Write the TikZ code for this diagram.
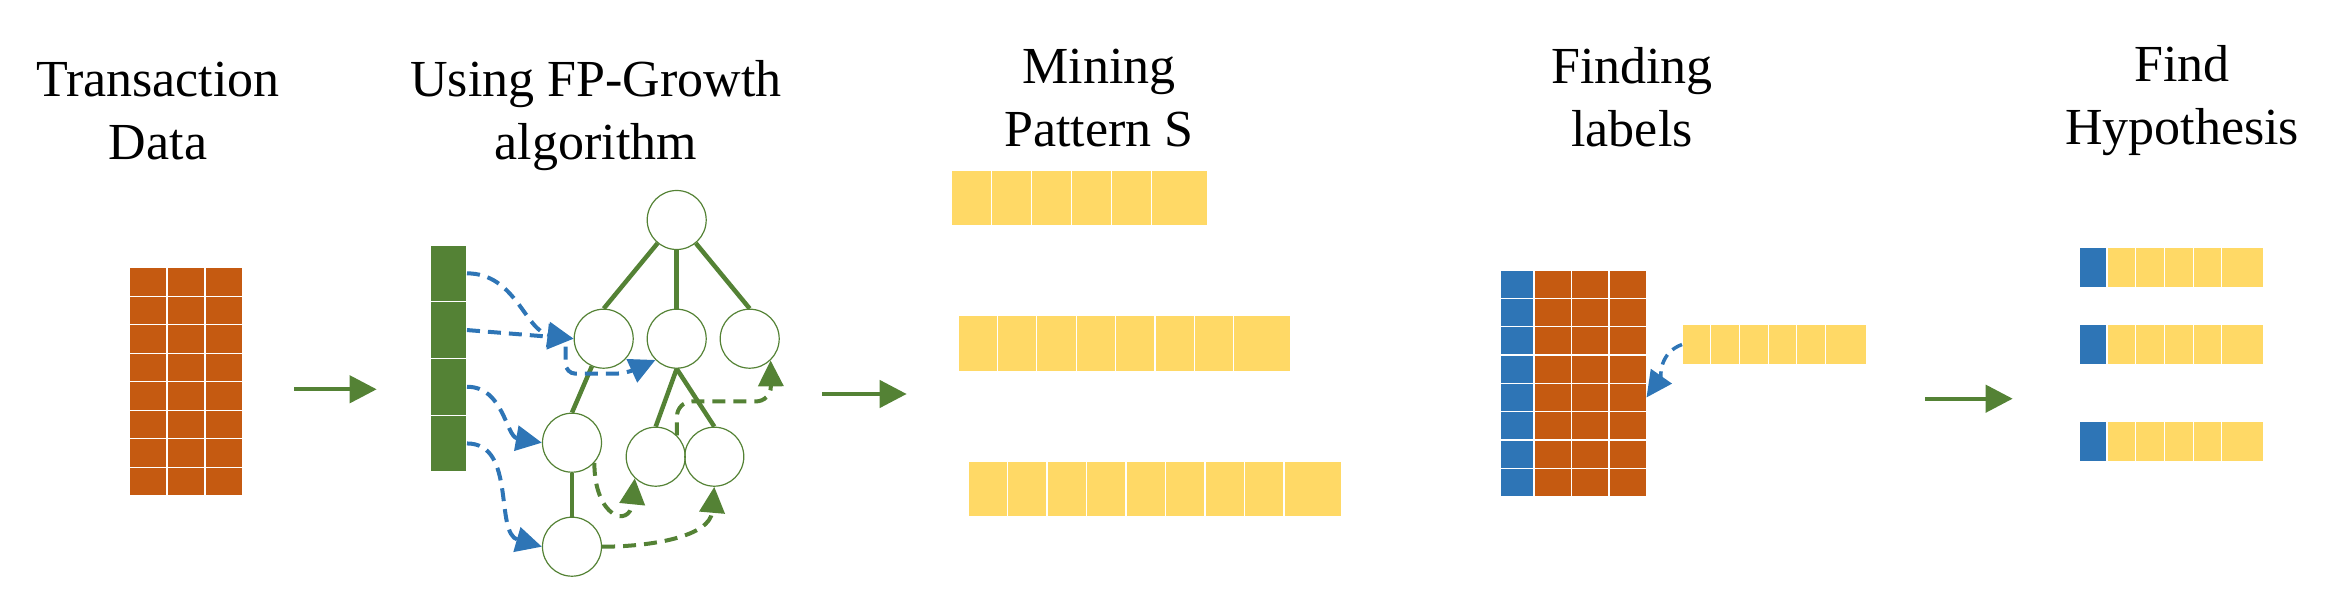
\documentclass[tikz,border=0pt]{standalone}
\usepackage{fontspec}
\setmainfont{Liberation Serif}
\usetikzlibrary{arrows.meta}

\definecolor{cellorange}{HTML}{C55A11}
\definecolor{fpgreen}{HTML}{548235}
\definecolor{linkblue}{HTML}{2E75B6}
\definecolor{itemyellow}{HTML}{FFD966}

\begin{document}
\begin{tikzpicture}[
  x = 1pt, y = -1pt,
  cell/.style = {
    shape = rectangle,
    draw = white,
    line width = 1.2pt,
    inner sep = 0pt,
    outer sep = 0pt,
    anchor = north west,
  },
  fpnode/.style = {
    shape = circle,
    draw = fpgreen,
    line width = 1.2pt,
    minimum size = 59pt,
    inner sep = 0pt,
  },
  title/.style = {
    anchor = base,
    align = center,
    font = \fontsize{52}{63.3}\selectfont,
  },
  flow/.style = {
    draw = fpgreen, line width = 4.3pt,
    -{Triangle[length = 27pt, width = 27pt]},
  },
  link/.style = {
    line width = 4pt,
    dash pattern = on 13pt off 8pt,
    -{Triangle[length = 26pt, width = 25pt]},
  },
]
  \useasboundingbox (0, 0) rectangle (2337, 596);

  % titles (base is the last line)
  \node[title] (ttrans) at (158, 160) {Transaction\\Data};
  \node[title] (tfp) at (596, 160) {Using FP-Growth\\algorithm};
  \node[title] (tmine) at (1099, 146.7) {Mining\\Pattern S};
  \node[title] (tlabel) at (1632, 146.7) {Finding\\labels};
  \node[title] (thyp) at (2182, 144.5) {Find\\Hypothesis};

  % transaction data
  \foreach \r in {0,...,7}
    \foreach \c in {0,...,2}
      \node[cell, fill = cellorange, minimum width = 38pt, minimum height = 28.5pt]
        (td-\r-\c) at ({129 + 38*\c}, {267.7 + 28.5*\r}) {};

  % header table
  \foreach \r in {1,...,4}
    \node[cell, fill = fpgreen, minimum width = 37pt, minimum height = 56.7pt]
      (bar\r) at (430, {245 + 56.7*(\r-1)}) {};

  % fp-tree
  \node[fpnode] (fp0) at (676.7, 220) {};
  \node[fpnode] (fp1) at (603.7, 338.7) {};
  \node[fpnode] (fp2) at (676.7, 338.7) {};
  \node[fpnode] (fp3) at (749.7, 338.7) {};
  \node[fpnode] (fp4) at (572, 442.7) {};
  \node[fpnode] (fp5) at (655.7, 456.7) {};
  \node[fpnode] (fp6) at (714.3, 456.7) {};
  \node[fpnode] (fp7) at (572, 546.7) {};

  \begin{scope}[every path/.style = {draw = fpgreen, line width = 4.5pt}]
    \draw (fp0) -- (fp1.north);
    \draw (fp0) -- (fp2);
    \draw (fp0) -- (fp3.north);
    \draw (fp1) -- (fp4.north);
    \draw (fp2.south) -- (fp5.north);
    \draw (fp2.south) -- (fp6.north);
    \draw (fp4) -- (fp7);
  \end{scope}

  % node links
  \draw[link, linkblue] (bar1.east) to[out = 0, in = 171] (fp1.west);
  \draw[link, linkblue] (bar2.east) -- (fp1.west);
  \draw[link, linkblue, rounded corners = 10pt]
    ([xshift = -8pt, yshift = -8pt]fp1.west) |- ++(60, 27) -- (fp2.225);
  \draw[link, linkblue] (bar3.east) to[out = 0, in = 170] (fp4.west);
  \draw[link, linkblue] (bar4.east) to[out = 0, in = 164] (fp7.west);

  \draw[link, fpgreen] (fp4.-42) .. controls +(0, 55) and +(-5, 50) .. (fp5.226);
  \draw[link, fpgreen] (fp7.east) to[out = 0, in = -95] (fp6.south);
  \draw[link, fpgreen, rounded corners = 15pt]
    (fp5.45) |- ++(94, -34) -- (fp3.-46);

  % mining patterns
  \foreach \c in {1,...,5}
    \node[cell, fill = itemyellow, minimum width = 40pt, minimum height = 56pt]
      (pa\c) at ({951.7 + 40*(\c-1)}, 170) {};
  \node[cell, fill = itemyellow, minimum width = 56.3pt, minimum height = 56pt]
    (pa6) at (1151.7, 170) {};

  \foreach \c in {1,...,7}
    \node[cell, fill = itemyellow, minimum width = 39.4pt, minimum height = 56.7pt]
      (pb\c) at ({958 + 39.4*(\c-1)}, 315) {};
  \node[cell, fill = itemyellow, minimum width = 56.3pt, minimum height = 56.7pt]
    (pb8) at (1233.8, 315) {};

  \foreach \c in {1,...,8}
    \node[cell, fill = itemyellow, minimum width = 39.5pt, minimum height = 55.7pt]
      (pc\c) at ({968 + 39.5*(\c-1)}, 461) {};
  \node[cell, fill = itemyellow, minimum width = 57.3pt, minimum height = 55.7pt]
    (pc9) at (1284, 461) {};

  % labelled data
  \foreach \r in {0,...,7} {
    \node[cell, fill = linkblue, minimum width = 34pt, minimum height = 28.33pt]
      (lb-\r) at (1500, {270 + 28.33*\r}) {};
    \foreach \c in {1,...,3}
      \node[cell, fill = cellorange, minimum width = 37.5pt, minimum height = 28.33pt]
        (lg-\r-\c) at ({1534 + 37.5*(\c-1)}, {270 + 28.33*\r}) {};
  }

  \foreach \c in {1,...,5}
    \node[cell, fill = itemyellow, minimum width = 28.7pt, minimum height = 41pt]
      (lab\c) at ({1682 + 28.7*(\c-1)}, 324) {};
  \node[cell, fill = itemyellow, minimum width = 41.3pt, minimum height = 41pt]
    (lab6) at (1825.5, 324) {};

  \draw[link, linkblue, line width = 3.5pt, dash pattern = on 11pt off 7pt]
    (lab1.west) to[out = 200, in = 55] (lg-4-3.east);

  % hypotheses
  \foreach \y [count = \k] in {247, 324, 421} {
    \node[cell, fill = linkblue, minimum width = 28pt, minimum height = 41pt]
      (hy\k-0) at (2079, \y) {};
    \foreach \c in {1,...,4}
      \node[cell, fill = itemyellow, minimum width = 28.7pt, minimum height = 41pt]
        (hy\k-\c) at ({2107 + 28.7*(\c-1)}, \y) {};
    \node[cell, fill = itemyellow, minimum width = 41.3pt, minimum height = 41pt]
      (hy\k-5) at (2221.8, \y) {};
  }

  % flow between steps
  \coordinate (f1s) at (294, 389.3);
  \coordinate (f1e) at (376.7, 389.3);
  \coordinate (f2s) at (822, 394);
  \coordinate (f2e) at (906.7, 394);
  \coordinate (f3s) at (1925, 398.7);
  \coordinate (f3e) at (2012.7, 398.7);
  \draw[flow] (f1s) -- (f1e);
  \draw[flow] (f2s) -- (f2e);
  \draw[flow] (f3s) -- (f3e);
\end{tikzpicture}
\end{document}
